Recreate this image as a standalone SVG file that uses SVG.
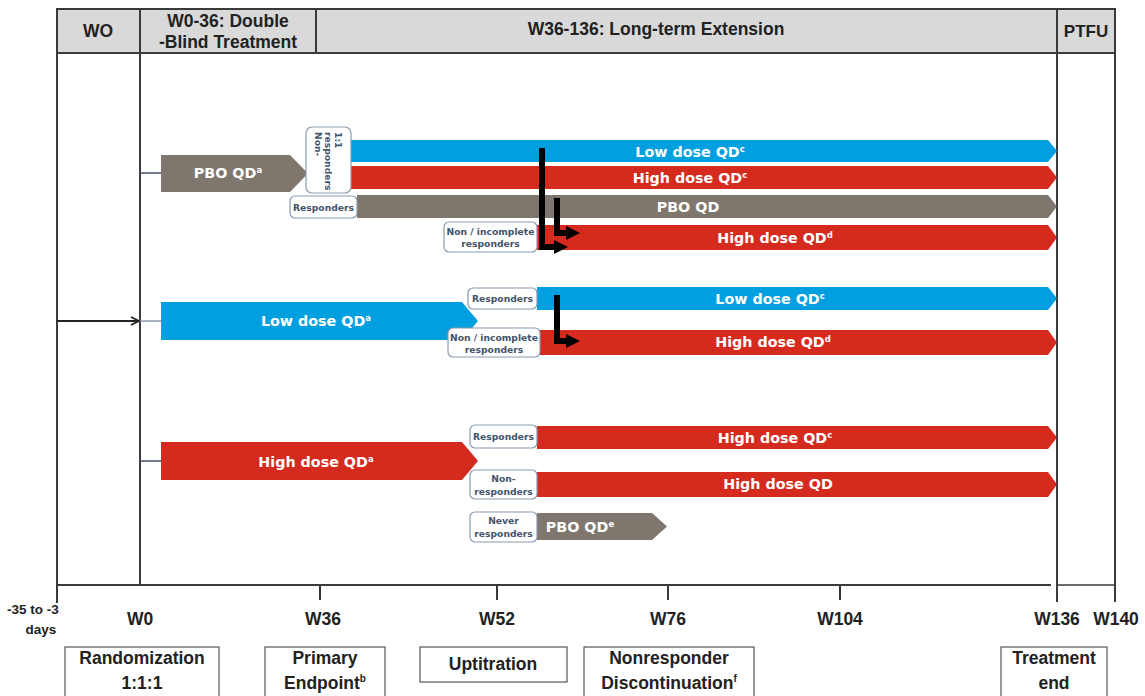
<svg xmlns="http://www.w3.org/2000/svg" width="1145" height="696" viewBox="0 0 1145 696">
<style>
.frame{stroke:#3a3a3a;stroke-width:2;fill:none}
.hdr{fill:#d9d9d9;stroke:#3a3a3a;stroke-width:2}
.ht{font-family:"Liberation Sans",Arial,sans-serif;font-weight:bold;font-size:17.5px;fill:#222;text-anchor:middle}
.ax{font-family:"Liberation Sans",Arial,sans-serif;font-weight:bold;font-size:17.5px;fill:#222;text-anchor:middle}
.bx{fill:#fff;stroke:#555;stroke-width:1.2}
.blue{fill:#009fdf}
.red{fill:#d52b1e}
.gray{fill:#7f766d}
.bt{font-family:"DejaVu Sans",Verdana,sans-serif;font-weight:bold;font-size:14.3px;fill:#fff;text-anchor:middle}
.lb{fill:#fff;stroke:#8a9ab0;stroke-width:1.2}
.lt{font-family:"DejaVu Sans",Verdana,sans-serif;font-weight:bold;font-size:9.2px;fill:#44546a;text-anchor:middle}
.thick{stroke:#000;stroke-width:6;fill:none}
</style>
<defs>
<marker id="ah" markerWidth="10" markerHeight="10" refX="9" refY="5" orient="auto" markerUnits="userSpaceOnUse">
<path d="M1,1 L9,5 L1,9" fill="none" stroke="#222" stroke-width="1.8"/>
</marker>
<marker id="bh" markerWidth="14" markerHeight="14" refX="4" refY="7" orient="auto" markerUnits="userSpaceOnUse">
<path d="M0,0 L14,7 L0,14 Z" fill="#000"/>
</marker>
</defs>
<rect width="1145" height="696" fill="#fff"/>

<g id="header">
<rect class="hdr" x="57" y="9" width="83" height="44"/>
<rect class="hdr" x="140" y="9" width="176" height="44"/>
<rect class="hdr" x="316" y="9" width="741" height="44"/>
<rect class="hdr" x="1057" y="9" width="58" height="44"/>
<text class="ht" x="98" y="37">WO</text>
<text class="ht" x="228" y="27">W0-36: Double</text>
<text class="ht" x="228" y="48">-Blind Treatment</text>
<text class="ht" x="656" y="35">W36-136: Long-term Extension</text>
<text class="ht" x="1086" y="37" style="font-size:17px">PTFU</text>
</g>

<g id="frame">
<line class="frame" x1="57" y1="53" x2="57" y2="603"/>
<line class="frame" x1="140" y1="53" x2="140" y2="586"/>
<line class="frame" x1="1057" y1="53" x2="1057" y2="602"/>
<line class="frame" x1="1115" y1="53" x2="1115" y2="602"/>
<line class="frame" x1="57" y1="585" x2="1051" y2="585"/>
<line class="frame" x1="1057" y1="585" x2="1115" y2="585" style="stroke-width:1.5"/>
<line class="frame" x1="320" y1="585" x2="320" y2="600"/>
<line class="frame" x1="497" y1="585" x2="497" y2="600"/>
<line class="frame" x1="668" y1="585" x2="668" y2="600"/>
<line class="frame" x1="840" y1="585" x2="840" y2="600"/>
</g>

<g id="axis-labels">
<text class="ax" x="33" y="614" style="font-size:13.5px">-35 to -3</text>
<text class="ax" x="41" y="634" style="font-size:13.5px">days</text>
<text class="ax" x="140" y="625">W0</text>
<text class="ax" x="323" y="625">W36</text>
<text class="ax" x="497" y="625">W52</text>
<text class="ax" x="668" y="625">W76</text>
<text class="ax" x="840" y="625">W104</text>
<text class="ax" x="1057" y="625">W136</text>
<text class="ax" x="1116" y="625">W140</text>
</g>

<g id="milestone-randomization">
<rect class="bx" x="65" y="647" width="154" height="52"/>
<text class="ax" x="142" y="664">Randomization</text>
<text class="ax" x="142" y="689">1:1:1</text>
</g>
<g id="milestone-primary">
<rect class="bx" x="265" y="647" width="120" height="52"/>
<text class="ax" x="325" y="664">Primary</text>
<text class="ax" x="325" y="689">Endpoint<tspan style="font-size:10px" dy="-7">b</tspan></text>
</g>
<g id="milestone-uptitration">
<rect class="bx" x="420" y="647" width="147" height="35"/>
<text class="ax" x="493" y="670">Uptitration</text>
</g>
<g id="milestone-nonresponder">
<rect class="bx" x="584" y="647" width="170" height="52"/>
<text class="ax" x="669" y="664">Nonresponder</text>
<text class="ax" x="669" y="689">Discontinuation<tspan style="font-size:10px" dy="-7">f</tspan></text>
</g>
<g id="milestone-treatment-end">
<rect class="bx" x="1001" y="647" width="106" height="52"/>
<text class="ax" x="1054" y="664">Treatment</text>
<text class="ax" x="1054" y="689">end</text>
</g>

<g id="connectors">
<line x1="140" y1="173" x2="161" y2="173" stroke="#44546a" stroke-width="1.5"/>
<line x1="57" y1="321" x2="139" y2="321" stroke="#222" stroke-width="1.8" marker-end="url(#ah)"/>
<line x1="140" y1="321" x2="161" y2="321" stroke="#8a9ab0" stroke-width="1.5"/>
<line x1="140" y1="461" x2="161" y2="461" stroke="#44546a" stroke-width="1.5"/>
</g>

<g id="arm-pbo">
<polygon class="gray" points="161,155 290,155 308,173.5 290,192 161,192"/>
<text class="bt" x="228" y="178">PBO QD<tspan style="font-size:8.5px" dy="-5">a</tspan></text>
</g>
<g id="pbo-nonresp-low">
<polygon class="blue" points="351,140 1048,140 1057,151 1048,162 351,162"/>
<text class="bt" x="690" y="157">Low dose QD<tspan style="font-size:8.5px" dy="-5">c</tspan></text>
</g>
<g id="pbo-nonresp-high">
<polygon class="red" points="351,166 1048,166 1057,177.5 1048,189 351,189"/>
<text class="bt" x="690" y="183">High dose QD<tspan style="font-size:8.5px" dy="-5">c</tspan></text>
</g>
<g id="label-nonresponders-11">
<rect class="lb" x="306" y="127" width="45" height="66" rx="6"/>
<text class="lt" transform="translate(315,132) rotate(90)" style="text-anchor:start">Non-</text>
<text class="lt" transform="translate(325,132) rotate(90)" style="text-anchor:start">responders</text>
<text class="lt" transform="translate(335,132) rotate(90)" style="text-anchor:start">1:1</text>
</g>
<g id="pbo-resp">
<polygon class="gray" points="357,195 1048,195 1057,206.5 1048,218 357,218"/>
<text class="bt" x="688" y="212">PBO QD</text>
<rect class="lb" x="290" y="196" width="67" height="22" rx="5"/>
<text class="lt" x="323.5" y="210.5">Responders</text>
</g>
<g id="pbo-incomplete">
<polygon class="red" points="537,225 1048,225 1057,237.5 1048,250 537,250"/>
<text class="bt" x="775" y="243">High dose QD<tspan style="font-size:8.5px" dy="-5">d</tspan></text>
<rect class="lb" x="444" y="222" width="93" height="30" rx="5"/>
<text class="lt" x="490.5" y="234.5">Non / incomplete</text>
<text class="lt" x="490.5" y="246.5">responders</text>
</g>

<g id="arm-low">
<polygon class="blue" points="161,302 462,302 478,321 462,340 161,340"/>
<text class="bt" x="316" y="326">Low dose QD<tspan style="font-size:8.5px" dy="-5">a</tspan></text>
</g>
<g id="low-resp">
<polygon class="blue" points="537,287 1048,287 1057,298.5 1048,310 537,310"/>
<text class="bt" x="770" y="304">Low dose QD<tspan style="font-size:8.5px" dy="-5">c</tspan></text>
<rect class="lb" x="468" y="288" width="69" height="21" rx="5"/>
<text class="lt" x="502.5" y="302">Responders</text>
</g>
<g id="low-incomplete">
<polygon class="red" points="540,330 1048,330 1057,342.5 1048,355 540,355"/>
<text class="bt" x="773" y="347">High dose QD<tspan style="font-size:8.5px" dy="-5">d</tspan></text>
<rect class="lb" x="448" y="328" width="92" height="29" rx="5"/>
<text class="lt" x="494" y="340.5">Non / incomplete</text>
<text class="lt" x="494" y="352.5">responders</text>
</g>

<g id="arm-high">
<polygon class="red" points="161,442 462,442 478,461 462,480 161,480"/>
<text class="bt" x="316" y="467">High dose QD<tspan style="font-size:8.5px" dy="-5">a</tspan></text>
</g>
<g id="high-resp">
<polygon class="red" points="537,426 1048,426 1057,437.5 1048,449 537,449"/>
<text class="bt" x="775" y="443">High dose QD<tspan style="font-size:8.5px" dy="-5">c</tspan></text>
<rect class="lb" x="470" y="425" width="67" height="23" rx="5"/>
<text class="lt" x="503.5" y="440">Responders</text>
</g>
<g id="high-nonresp">
<polygon class="red" points="537,472 1048,472 1057,484.5 1048,497 537,497"/>
<text class="bt" x="778" y="489">High dose QD</text>
<rect class="lb" x="470" y="470" width="67" height="29" rx="5"/>
<text class="lt" x="503.5" y="482">Non-</text>
<text class="lt" x="503.5" y="494.5">responders</text>
</g>
<g id="high-never">
<polygon class="gray" points="537,513 652,513 667,526.5 652,540 537,540"/>
<text class="bt" x="580" y="532">PBO QD<tspan style="font-size:8.5px" dy="-5">e</tspan></text>
<rect class="lb" x="470" y="512" width="67" height="30" rx="5"/>
<text class="lt" x="503.5" y="524">Never</text>
<text class="lt" x="503.5" y="537">responders</text>
</g>

<g id="switch-arrows">
<path class="thick" d="M542,148 V247 H558" marker-end="url(#bh)"/>
<path class="thick" d="M557,198 V233 H570" marker-end="url(#bh)"/>
<path class="thick" d="M557,295 V341 H570" marker-end="url(#bh)"/>
</g>
</svg>
